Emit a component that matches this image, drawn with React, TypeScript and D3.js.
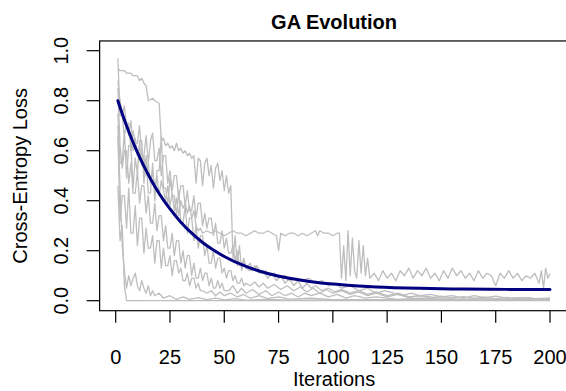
import React from "react";
import * as d3 from "d3";

// ---- data ----
const xTicks = [0, 25, 50, 75, 100, 125, 150, 175, 200];
const yTicks = [0, 0.2, 0.4, 0.6, 0.8, 1.0];
const yTickLabels = ["0.0", "0.2", "0.4", "0.6", "0.8", "1.0"];

const runA: [number, number][] = [
  [1,0.93],[2,0.92],[4,0.92],[5,0.91],[7,0.91],[8,0.90],[10,0.90],[11,0.88],[12,0.89],[13,0.87],[14,0.86],[15,0.80],[17,0.81],[18,0.80],[20,0.79],
  [21,0.64],[22,0.65],[23,0.62],[24,0.63],[25,0.61],[26,0.62],[27,0.60],[28,0.63],[29,0.60],[30,0.61],[31,0.59],[32,0.60],[33,0.58],[34,0.59],[35,0.57],
  [36,0.58],[37,0.47],[38,0.57],[39,0.56],[40,0.46],[41,0.55],[42,0.57],[43,0.50],[44,0.54],[45,0.45],[46,0.53],[47,0.55],[48,0.48],[49,0.52],[50,0.44],
  [51,0.50],[52,0.43],[53,0.46],[54,0.17],[55,0.26],[56,0.14],[57,0.22],[58,0.12],[59,0.16],[60,0.13],[62,0.15],[63,0.12],[65,0.14],[67,0.11],[69,0.12],
  [71,0.10],[73,0.11],[75,0.09],[78,0.10],[80,0.08],[83,0.09],[86,0.08],[89,0.09],[92,0.07],[95,0.08],[98,0.06],[101,0.07],[104,0.05],[108,0.06],
  [112,0.04],[116,0.05],[120,0.03],[124,0.04],[128,0.03],[132,0.02],[136,0.03],[140,0.02],[145,0.025],[150,0.015],[155,0.02],[160,0.01],[165,0.02],
  [170,0.012],[175,0.018],[180,0.01],[186,0.012],[192,0.008],[200,0.01],
];

const runBHead = [
  0.88,0.80,0.74,0.78,0.70,0.66,0.72,0.60,0.65,0.58,0.62,0.54,0.58,0.50,0.55,0.47,0.52,0.45,0.50,0.42,
  0.48,0.44,0.40,0.46,0.38,0.43,0.36,0.41,0.34,0.40,0.37,0.39,0.35,0.38,0.33,0.36,0.30,0.28,0.29,0.27,
];
const runBTail: [number, number][] = [
  [42,0.28],[44,0.27],[46,0.28],[48,0.27],[50,0.26],[52,0.27],[54,0.28],[56,0.27],[58,0.27],[60,0.26],[62,0.27],[64,0.28],[66,0.27],[68,0.27],
  [70,0.28],[72,0.27],[74,0.26],[75,0.20],[76,0.27],[78,0.26],[80,0.27],[82,0.27],[84,0.26],[86,0.27],[88,0.26],[90,0.27],[92,0.28],[93,0.26],
  [94,0.28],[96,0.27],[98,0.27],[100,0.26],[102,0.27],[103,0.27],[104,0.09],[105,0.22],[106,0.08],[107,0.28],[108,0.10],[109,0.25],[110,0.12],
  [111,0.09],[112,0.24],[113,0.11],[114,0.22],[115,0.10],[116,0.17],[117,0.09],[119,0.11],[121,0.08],[123,0.12],[125,0.09],[127,0.11],[129,0.08],
  [131,0.12],[133,0.10],[135,0.13],[137,0.09],[139,0.12],[141,0.10],[143,0.13],[145,0.09],[147,0.11],[149,0.08],[151,0.12],[153,0.09],[155,0.13],
  [157,0.10],[159,0.12],[161,0.09],[163,0.11],[165,0.08],[167,0.12],[169,0.09],[171,0.11],[173,0.10],[175,0.06],[177,0.11],[179,0.09],[181,0.12],
  [183,0.09],[185,0.11],[187,0.08],[189,0.10],[191,0.09],[193,0.11],[195,0.07],[196,0.12],[197,0.05],[198,0.13],[199,0.09],[200,0.11],
];

const runC: [number, number][] = [[1,0.46],[2,0.24],[3,0.30],[4,0.06],[5,0.0],[200,0.0]];

const runD: [number, number][] = [
  [1,0.70],[2,0.45],[3,0.22],[4,0.12],[5,0.05],[6,0.10],[7,0.06],[8,0.09],[9,0.11],[10,0.06],[11,0.04],[12,0.08],[13,0.05],[14,0.03],[15,0.06],
  [16,0.02],[17,0.04],[18,0.02],[20,0.03],[22,0.01],[25,0.02],[28,0.005],[31,0.015],[34,0.005],[38,0.012],[42,0.004],[46,0.01],[50,0.003],
  [55,0.008],[60,0.002],[70,0.005],[80,0.002],[100,0.003],[130,0.001],[200,0.001],
];

const runEHead = [
  0.97,0.74,0.74,0.66,0.71,0.71,0.60,0.68,0.63,0.63,0.70,0.58,0.58,0.66,0.55,0.64,0.67,0.56,0.56,0.61,
  0.50,0.58,0.58,0.47,0.52,0.44,0.50,0.50,0.41,0.46,0.46,0.38,0.44,0.36,0.36,0.42,0.33,0.39,0.39,0.30,
  0.35,0.29,0.33,0.33,0.26,0.31,0.23,0.23,0.28,0.21,0.25,0.19,0.19,0.22,0.16,0.20,0.14,0.14,0.17,0.13,
];
const runETail: [number, number][] = [
  [62,0.12],[64,0.14],[66,0.11],[68,0.12],[70,0.09],[72,0.11],[74,0.08],[76,0.10],[78,0.07],[80,0.09],[82,0.06],[84,0.08],[86,0.05],[88,0.07],
  [90,0.05],[92,0.06],[95,0.04],[98,0.05],[101,0.035],[104,0.045],[108,0.03],[112,0.04],[116,0.025],[120,0.035],[125,0.02],[130,0.03],
  [135,0.015],[140,0.02],[150,0.01],[160,0.012],[175,0.006],[200,0.005],
];

const runFHead = [
  0.85,0.62,0.53,0.60,0.60,0.47,0.55,0.43,0.43,0.52,0.39,0.46,0.46,0.35,0.42,0.31,0.31,0.39,0.28,0.34,
  0.34,0.24,0.30,0.21,0.21,0.27,0.18,0.24,0.24,0.15,0.20,0.13,0.18,0.18,0.10,0.15,0.09,0.09,0.13,0.08,
  0.11,0.11,0.06,0.09,0.05,0.05,0.08,0.05,0.07,0.04,
];
const runFTail: [number, number][] = [
  [52,0.04],[54,0.06],[56,0.03],[58,0.05],[60,0.03],[63,0.045],[66,0.025],[69,0.04],[72,0.02],[75,0.035],[78,0.02],[81,0.03],[84,0.015],
  [87,0.03],[90,0.02],[94,0.03],[98,0.015],[102,0.025],[106,0.01],[110,0.02],[115,0.01],[120,0.015],[130,0.005],[140,0.01],[160,0.003],[200,0.002],
];

const runGHead = [
  0.66,0.32,0.42,0.42,0.29,0.45,0.27,0.27,0.38,0.22,0.33,0.33,0.19,0.29,0.21,0.21,0.26,0.15,0.24,0.24,
  0.13,0.21,0.14,0.14,0.18,0.10,0.16,0.16,0.11,0.13,0.08,0.08,0.11,0.06,0.09,0.09,0.05,0.07,0.04,0.04,
];
const runGTail: [number, number][] = [
  [42,0.03],[44,0.04],[46,0.02],[48,0.035],[50,0.02],[53,0.03],[56,0.015],[59,0.025],[62,0.01],[66,0.02],[70,0.008],[75,0.015],[80,0.006],
  [90,0.01],[100,0.004],[120,0.004],[200,0.003],
];

const runHHead = [
  0.75,0.55,0.55,0.68,0.49,0.62,0.62,0.45,0.57,0.51,0.64,0.64,0.47,0.58,0.43,0.43,0.55,0.40,0.52,0.52,
  0.66,0.45,0.45,0.38,0.49,0.42,0.42,0.34,0.44,0.31,0.31,0.38,0.27,0.33,0.33,0.24,0.30,0.21,0.26,0.26,
  0.18,0.22,0.15,0.15,0.20,0.13,0.17,0.17,0.11,0.13,0.09,0.12,0.12,0.08,0.10,0.07,0.07,0.09,0.06,0.07,
];
const runHTail: [number, number][] = [
  [62,0.06],[64,0.075],[66,0.055],[68,0.07],[70,0.05],[73,0.065],[76,0.045],[79,0.06],[82,0.04],[85,0.055],[88,0.035],[91,0.05],[94,0.03],
  [97,0.045],[100,0.03],[104,0.04],[108,0.025],[112,0.035],[116,0.02],[120,0.03],[125,0.015],[130,0.025],[135,0.012],[140,0.02],[145,0.01],
  [150,0.018],[155,0.01],[160,0.016],[165,0.008],[170,0.014],[175,0.008],[180,0.013],[185,0.007],[190,0.012],[195,0.006],[200,0.01],
];

// mean curve samples
const meanIter = [1, 3, 5, 7, 10, 13, 16, 20, 25, 30, 35, 40, 45, 50, 60, 70, 80, 90, 100, 110, 120, 140, 160, 180, 200];
const meanLoss = [0.800, 0.748, 0.700, 0.655, 0.593, 0.538, 0.488, 0.429, 0.367, 0.314, 0.270, 0.233, 0.203, 0.177, 0.137, 0.109, 0.090, 0.076, 0.0665, 0.060, 0.055, 0.0494, 0.0467, 0.0453, 0.0447];

const headToPairs = (vals: number[]): [number, number][] => vals.map((v, i) => [i + 1, v]);

export default function App() {
  const W = 566, H = 391;
  const x = d3.scaleLinear().domain([0, 200]).range([115.7, 550]);
  const y = d3.scaleLinear().domain([0, 1]).range([300.7, 50.7]);
  const boxL = x(-7.4), boxR = x(208.5), boxT = y(1.039), boxB = y(-0.04);

  const runs: [number, number][][] = [
    runA,
    [...headToPairs(runBHead), ...runBTail],
    runC,
    runD,
    [...headToPairs(runEHead), ...runETail],
    [...headToPairs(runFHead), ...runFTail],
    [...headToPairs(runGHead), ...runGTail],
    [...headToPairs(runHHead), ...runHTail],
  ];

  const line = d3.line<[number, number]>().x(d => x(d[0])).y(d => y(d[1]));
  const meanLine = d3.line<number>().x((_, i) => x(meanIter[i])).y(d => y(d)).curve(d3.curveMonotoneX);

  const font = "'Liberation Sans', Arial, Helvetica, sans-serif";

  return (
    <svg width={W} height={H} style={{ position: "absolute", left: 0, top: 0, background: "#fff" }} fontFamily={font}>
      <defs>
        <clipPath id="plotclip">
          <rect x={boxL} y={boxT} width={boxR - boxL} height={boxB - boxT} />
        </clipPath>
      </defs>
      <text x={(boxL + boxR) / 2} y={29} textAnchor="middle" fontSize={20} fontWeight="bold">GA Evolution</text>
      <g clipPath="url(#plotclip)">
        {runs.map((r, i) => (
          <path key={i} d={line(r) || ""} fill="none" stroke="#bebebe" strokeWidth={1.3} strokeLinejoin="round" />
        ))}
        <path d={meanLine(meanLoss) || ""} fill="none" stroke="#000080" strokeWidth={3} strokeLinecap="round" />
      </g>
      <rect x={boxL} y={boxT} width={boxR - boxL} height={boxB - boxT} fill="none" stroke="#000" strokeWidth={1.2} />
      {xTicks.map(t => (
        <g key={t}>
          <line x1={x(t)} x2={x(t)} y1={boxB} y2={boxB + 12} stroke="#000" strokeWidth={1.2} />
          <text x={x(t)} y={364} textAnchor="middle" fontSize={20}>{t}</text>
        </g>
      ))}
      {yTicks.map((t, i) => (
        <g key={t}>
          <line x1={boxL - 13} x2={boxL} y1={y(t)} y2={y(t)} stroke="#000" strokeWidth={1.2} />
          <text transform={`translate(68,${y(t)}) rotate(-90)`} textAnchor="middle" fontSize={20}>{yTickLabels[i]}</text>
        </g>
      ))}
      <text x={(boxL + boxR) / 2} y={386} textAnchor="middle" fontSize={20}>Iterations</text>
      <text transform={`translate(27,${(boxT + boxB) / 2}) rotate(-90)`} textAnchor="middle" fontSize={20}>Cross-Entropy Loss</text>
    </svg>
  );
}
